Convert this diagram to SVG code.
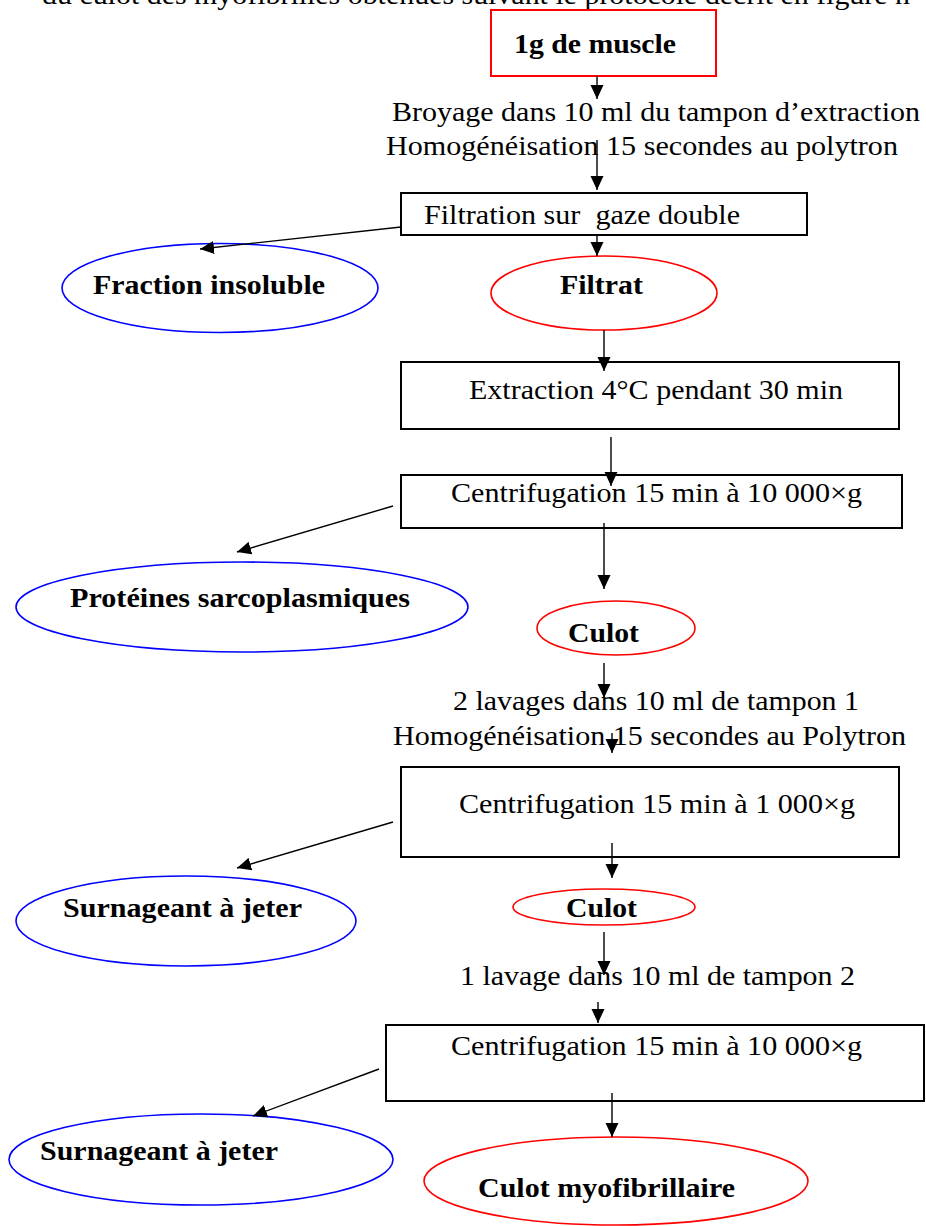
<svg xmlns="http://www.w3.org/2000/svg" width="926" height="1226" viewBox="0 0 926 1226">
<style>
  .t { font-family: "Liberation Serif", "Times New Roman", serif; font-size: 28px; fill: #000; }
  .b { font-family: "Liberation Serif", "Times New Roman", serif; font-size: 27px; font-weight: bold; fill: #000; }
  .box { fill: #fff; stroke: #000; stroke-width: 2; }
  .rbox { fill: #fff; stroke: #ff0000; stroke-width: 2; }
  .red { fill: #fff; stroke: #ff0000; stroke-width: 1.6; }
  .blue { fill: #fff; stroke: #0000ff; stroke-width: 1.6; }
  .c line { stroke: #000; stroke-width: 1.4; marker-end: url(#ah); }
</style>
<defs>
  <marker id="ah" markerUnits="userSpaceOnUse" markerWidth="14" markerHeight="14" refX="14" refY="7" orient="auto">
    <path d="M0,0.5 L14,7 L0,13.5 z" fill="#000"/>
  </marker>
</defs>
<rect width="926" height="1226" fill="#fff"/>
<text class="t" x="42" y="4" textLength="868" lengthAdjust="spacingAndGlyphs">du culot des myofibrilles obtenues suivant le protocole décrit en figure n</text>

<g id="n1"><rect class="rbox" x="491" y="10" width="225" height="66"/><text class="b" x="514" y="53" textLength="162" lengthAdjust="spacingAndGlyphs">1g de muscle</text></g>
<g id="lbl1">
  <text class="t" x="392" y="121" textLength="528" lengthAdjust="spacingAndGlyphs">Broyage dans 10 ml du tampon d’extraction</text>
  <text class="t" x="386" y="155" textLength="512" lengthAdjust="spacingAndGlyphs">Homogénéisation 15 secondes au polytron</text>
</g>
<g id="n2"><rect class="box" x="401" y="193" width="406" height="42"/><text class="t" x="424" y="224" textLength="316" lengthAdjust="spacingAndGlyphs" xml:space="preserve">Filtration sur  gaze double</text></g>
<g id="n3"><ellipse class="blue" cx="220" cy="288" rx="158" ry="44.5"/><text class="b" x="93" y="294" textLength="232" lengthAdjust="spacingAndGlyphs">Fraction insoluble</text></g>
<g id="n4"><ellipse class="red" cx="604" cy="293" rx="113" ry="37"/><text class="b" x="560" y="294" textLength="83" lengthAdjust="spacingAndGlyphs">Filtrat</text></g>
<g id="n5"><rect class="box" x="401" y="362" width="498" height="67"/><text class="t" x="469" y="399" textLength="374" lengthAdjust="spacingAndGlyphs">Extraction 4°C pendant 30 min</text></g>
<g id="n6"><rect class="box" x="401" y="475" width="501" height="53"/><text class="t" x="451" y="502" textLength="411" lengthAdjust="spacingAndGlyphs">Centrifugation 15 min à 10 000×g</text></g>
<g id="n7"><ellipse class="blue" cx="242" cy="607" rx="226" ry="45"/><text class="b" x="70" y="607" textLength="340" lengthAdjust="spacingAndGlyphs">Protéines sarcoplasmiques</text></g>
<g id="n8"><ellipse class="red" cx="616" cy="628" rx="79" ry="27"/><text class="b" x="568" y="642" textLength="71" lengthAdjust="spacingAndGlyphs">Culot</text></g>
<g id="lbl2">
  <text class="t" x="453" y="710" textLength="406" lengthAdjust="spacingAndGlyphs">2 lavages dans 10 ml de tampon 1</text>
  <text class="t" x="393" y="745" textLength="513" lengthAdjust="spacingAndGlyphs">Homogénéisation 15 secondes au Polytron</text>
</g>
<g id="n9"><rect class="box" x="401" y="767" width="498" height="90"/><text class="t" x="459" y="813" textLength="396" lengthAdjust="spacingAndGlyphs">Centrifugation 15 min à 1 000×g</text></g>
<g id="n10"><ellipse class="blue" cx="186" cy="921" rx="170" ry="45"/><text class="b" x="63" y="917" textLength="239" lengthAdjust="spacingAndGlyphs">Surnageant à jeter</text></g>
<g id="n11"><ellipse class="red" cx="604" cy="907" rx="91" ry="18"/><text class="b" x="566" y="917" textLength="71" lengthAdjust="spacingAndGlyphs">Culot</text></g>
<g id="lbl3">
  <text class="t" x="460" y="985" textLength="395" lengthAdjust="spacingAndGlyphs">1 lavage dans 10 ml de tampon 2</text>
</g>
<g id="n12"><rect class="box" x="386" y="1025" width="538" height="76"/><text class="t" x="451" y="1055" textLength="411" lengthAdjust="spacingAndGlyphs">Centrifugation 15 min à 10 000×g</text></g>
<g id="n13"><ellipse class="blue" cx="201" cy="1159.5" rx="192" ry="45.5"/><text class="b" x="40" y="1160" textLength="238" lengthAdjust="spacingAndGlyphs">Surnageant à jeter</text></g>
<g id="n14"><ellipse class="red" cx="616" cy="1181" rx="192" ry="44"/><text class="b" x="478" y="1197" textLength="257" lengthAdjust="spacingAndGlyphs">Culot myofibrillaire</text></g>

<g id="connectors" class="c">
  <line x1="597" y1="76" x2="597" y2="99"/>
  <line x1="597" y1="140" x2="597" y2="190"/>
  <line x1="401" y1="227" x2="200" y2="249"/>
  <line x1="597" y1="236" x2="597" y2="256"/>
  <line x1="604" y1="330" x2="604" y2="371"/>
  <line x1="611" y1="437" x2="611" y2="486"/>
  <line x1="393" y1="506" x2="237" y2="552"/>
  <line x1="604" y1="523" x2="604" y2="589"/>
  <line x1="604" y1="663" x2="604" y2="698"/>
  <line x1="612" y1="733" x2="612" y2="753"/>
  <line x1="393" y1="822" x2="237" y2="868"/>
  <line x1="612" y1="843" x2="612" y2="878"/>
  <line x1="604" y1="932" x2="604" y2="975"/>
  <line x1="598" y1="1002" x2="598" y2="1023"/>
  <line x1="379" y1="1069" x2="253" y2="1116"/>
  <line x1="612" y1="1093" x2="612" y2="1137"/>
</g>
</svg>
